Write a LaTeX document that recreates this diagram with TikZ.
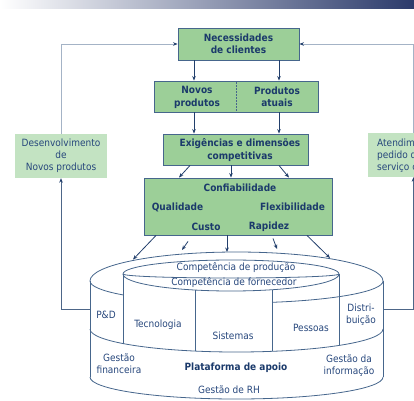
\documentclass[tikz,border=0pt]{standalone}
\usepackage{fontspec}
\setmainfont{DejaVu Sans Condensed}
\usetikzlibrary{arrows.meta}

\definecolor{navy}{HTML}{1B3A6B}
\definecolor{textblue}{HTML}{27477C}
\definecolor{boxgreen}{HTML}{9CCF98}
\definecolor{palegreen}{HTML}{C3E3C2}
\definecolor{edge}{HTML}{46668C}
\definecolor{wire}{HTML}{223F6C}
\definecolor{lightwire}{HTML}{A4B3C6}
\definecolor{midwire}{HTML}{4D6688}
\definecolor{barnavy}{HTML}{2B3A6B}
\definecolor{barmid}{HTML}{C3C7D0}

\begin{document}
\begin{tikzpicture}[x=1pt,y=-1pt,
  every node/.style={inner sep=0pt, text=navy},
  boldtext/.style={font=\bfseries\fontsize{10}{12.5}\selectfont, align=center, text=navy},
  plaintext/.style={font=\fontsize{10}{12}\selectfont, align=center, text=textblue},
  greenbox/.style={draw=edge, fill=boxgreen, line width=0.9pt, boldtext},
  sidebox/.style={fill=palegreen, plaintext, minimum width=92pt, minimum height=44pt},
  tip/.style={-{Stealth[length=4.5pt,width=3.6pt,color=wire]}},
  arrowline/.style={draw=wire, line width=0.8pt, tip},
  loopline/.style={draw=lightwire, line width=0.9pt, tip},
  returnline/.style={draw=midwire, line width=0.9pt, tip},
  cylline/.style={draw=edge, line width=0.8pt}
]
\useasboundingbox (0,0) rectangle (414,400);

% title bar
\shade[left color=white, middle color=barmid, right color=barnavy] (0,0) rectangle (414,8);

% boxes of the strategy chain
\node[greenbox, minimum width=121pt, minimum height=32pt] (nec) at (238.5,44) {Necessidades\\de clientes};
\node[greenbox, minimum width=164pt, minimum height=31pt] (prod) at (236,96.5) {};
\node[boldtext] (novos) at (197,97.5) {Novos\\produtos};
\node[boldtext] (atuais) at (277,97) {Produtos\\atuais};
\draw[edge, line width=0.6pt, dash pattern=on 1.5pt off 1.5pt] ([yshift=-1.5pt]prod.north) -- ([yshift=1.5pt]prod.south);

\node[greenbox, minimum width=145pt, minimum height=31pt] (exig) at (235.5,149.5) {};
\node[boldtext] (exigtxt) at (240,150) {Exigências e dimensões\\competitivas};

\node[greenbox, minimum width=188pt, minimum height=57pt] (conf) at (238,206.5) {};
\node[boldtext] (confi) at (240,188) {Confiabilidade};
\node[boldtext] (qual) at (177.5,207) {Qualidade};
\node[boldtext] (flex) at (292.5,207) {Flexibilidade};
\node[boldtext] (custo) at (206,227) {Custo};
\node[boldtext] (rap) at (269,227) {Rapidez};

% side boxes
\node[sidebox] (lbox) at (61,156) {Desenvolvimento\\de\\Novos produtos};
\node[sidebox] (rbox) at (413.5,155) {};
\node[plaintext, anchor=west, align=left] (rtxt) at (377,155.5) {Atendimento do\\pedido de\\serviço cliente};

% arrows down the chain
\draw[arrowline] ([xshift=-44.5pt]nec.south) -- ([xshift=-42pt]prod.north);
\draw[arrowline] ([xshift=40.5pt]nec.south) -- ([xshift=43pt]prod.north);
\draw[arrowline] ([xshift=-42pt]prod.south) -- ([xshift=-41.5pt]exig.north);
\draw[arrowline] ([xshift=43pt]prod.south) -- ([xshift=43.5pt]exig.north);
\draw[arrowline] ([xshift=-45.5pt]exig.south) -- ([xshift=-59pt]conf.north);
\draw[arrowline] ([xshift=-4.5pt]exig.south) -- ([xshift=-7pt]conf.north);
\draw[arrowline] ([xshift=43.5pt]exig.south) -- ([xshift=51pt]conf.north);

% points on the platform rim
\coordinate (rim1) at (133,259.5);
\coordinate (rim2) at (182,250);
\coordinate (rim3) at (227,252);
\coordinate (rim4) at (277,249);
\coordinate (rim5) at (330,258);
\coordinate (pdside) at (90,309);
\coordinate (distside) at (383,309);

\draw[arrowline] ([xshift=-82pt]conf.south) -- (rim1);
\draw[arrowline] ([xshift=-50pt,yshift=-6pt]conf.south) -- (rim2);
\draw[arrowline] ([xshift=-11pt]conf.south) -- (rim3);
\draw[arrowline] ([xshift=35pt,yshift=-3pt]conf.south) -- (rim4);
\draw[arrowline] ([xshift=69pt]conf.south) -- (rim5);

% feedback loops
\draw[loopline] (lbox.north) |- (nec.west);
\draw[loopline] (rbox.north) |- (nec.east);
\draw[returnline] (pdside) -| (lbox.south);
\draw[returnline] (distside) -| (rbox.south);

% support platform: outer ring
\begin{scope}[cylline]
  \draw (90,281) arc[start angle=180, end angle=360, x radius=146.5, y radius=29];
  \draw (90,281) arc[start angle=180, end angle=140.8, x radius=146.5, y radius=22];
  \draw (272,302.3) arc[start angle=76, end angle=0, x radius=146.5, y radius=22];
  \draw (90,281) -- (90,377);
  \draw (383,281) -- (383,377);
  \draw (90,329) arc[start angle=180, end angle=0, x radius=146.5, y radius=23];
  \draw (90,377) arc[start angle=180, end angle=0, x radius=146.5, y radius=22];
  % inner core
  \draw (123,274) arc[start angle=180, end angle=360, x radius=108, y radius=14];
  \draw (123,274) arc[start angle=180, end angle=0, x radius=108, y radius=4];
  \draw (123,274) arc[start angle=180, end angle=0, x radius=108, y radius=17];
  \draw (123,274) -- (123,343.5);
  \draw (339,274) -- (339,345.4);
  \draw (195,290) -- (195,351);
  \draw (272,289.7) -- (272,351.3);
\end{scope}

% platform labels
\node[plaintext] (cprod) at (236,268) {Competência de produção};
\node[plaintext] (cforn) at (234,282.5) {Competência de fornecedor};
\node[plaintext] (pd) at (106,315) {P\&D};
\node[plaintext] (tec) at (158,325) {Tecnologia};
\node[plaintext] (sis) at (233,336) {Sistemas};
\node[plaintext] (pes) at (311,328) {Pessoas};
\node[plaintext] (dist) at (361,315) {Distri-\\buição};
\node[plaintext] (gfin) at (119,364) {Gestão\\financeira};
\node[boldtext] (plat) at (236,368) {Plataforma de apoio};
\node[plaintext] (ginf) at (349,366) {Gestão da\\informação};
\node[plaintext] (grh) at (229,390) {Gestão de RH};
\end{tikzpicture}
\end{document}
